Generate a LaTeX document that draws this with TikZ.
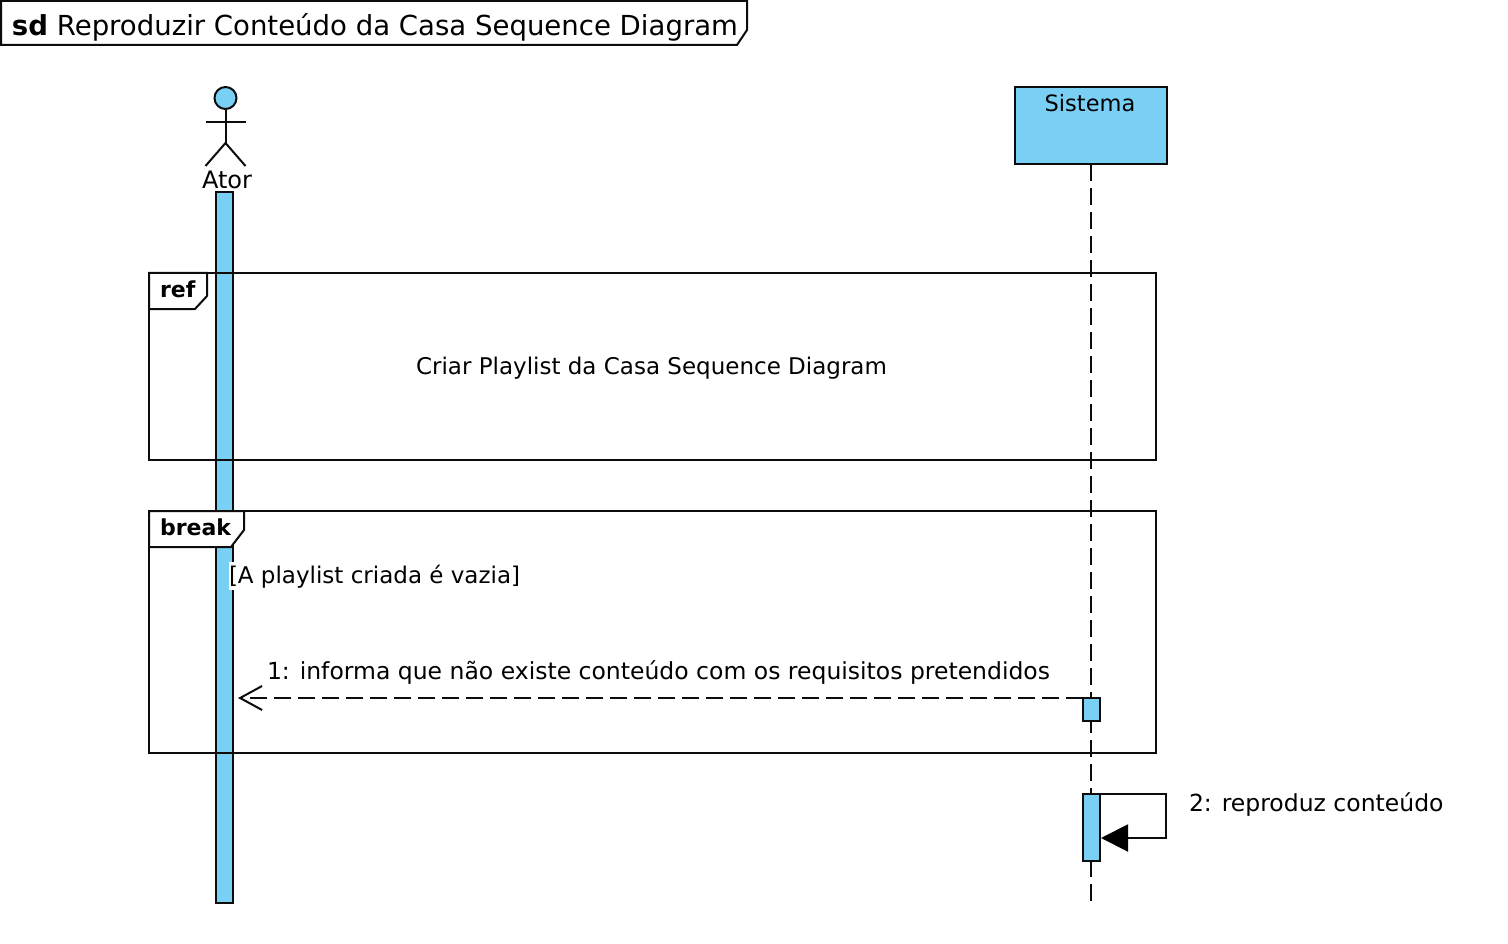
\documentclass[tikz,border=0pt]{standalone}
\usepackage{fontspec}
\setmainfont{DejaVu Sans}
\usetikzlibrary{arrows.meta}
\definecolor{fillblue}{HTML}{7ACFF5}
\definecolor{ink}{HTML}{0C0C0C}
\tikzset{
  lbl/.style={inner sep=0pt,outer sep=0pt,text=black,font=\fontsize{23.5}{28}\selectfont},
  lblw/.style={lbl,anchor=base west},
  lblc/.style={lbl,anchor=base},
  ln/.style={draw=ink,line width=2pt},
  bluebox/.style={ln,fill=fillblue,inner sep=0pt,outer sep=0pt,anchor=north west},
  framebox/.style={ln,inner sep=0pt,outer sep=0pt,anchor=north west},
  tab/.style={ln,fill=white,line join=miter},
  dashline/.style={ln,dash pattern=on 17pt off 7pt}
}
\begin{document}
\begin{tikzpicture}[x=1pt,y=-1pt]
\useasboundingbox (0,0) rectangle (1508,944);
% title
\draw[tab] (1,1) -- (747,1) -- (747,30) -- (737,45) -- (1,45) -- cycle;
\node[lblw,font=\fontsize{27.55}{32}\selectfont] (title) at (12,35.5) {\textbf{sd} Reproduzir Conteúdo da Casa Sequence Diagram};
% actor
\node[draw=ink,line width=2pt,fill=fillblue,circle,minimum size=22pt,inner sep=0pt,outer sep=0pt] (head) at (225.5,98) {};
\coordinate (hip) at (225.5,143);
\coordinate (armL) at (205.5,122);
\coordinate (armR) at (245.5,122);
\coordinate (footL) at (205.5,166);
\coordinate (footR) at (245.5,166);
\draw[ln] (head.south) -- (hip);
\draw[ln] (armL) -- (armR);
\draw[ln] (footL) -- (hip) -- (footR);
\node[lblc,font=\fontsize{24}{28}\selectfont] (ator) at (227,188.5) {Ator};
% Sistema
\node[bluebox,minimum width=152pt,minimum height=77pt] (sistema) at (1015,87) {};
\node[lblc,font=\fontsize{22.5}{28}\selectfont] (sistemaT) at (1090,112) {Sistema};
\coordinate (lifeEnd) at (1090.5,906);
\draw[dashline] (sistema.south -| lifeEnd) -- (lifeEnd);
% actor activation
\node[bluebox,minimum width=17pt,minimum height=711pt] (actA) at (216,192) {};
% ref
\node[framebox,minimum width=1007pt,minimum height=187pt] (refF) at (149,273) {};
\draw[tab] (refF.north west) -- (207,273) -- (207,296) -- (195,309) -- (149,309) -- cycle;
\node[lblw,font=\fontsize{22}{28}\selectfont] (refT) at (160,298) {\textbf{ref}};
\node[lblc,font=\fontsize{23}{28}\selectfont] (refL) at (651.5,374.5) {Criar Playlist da Casa Sequence Diagram};
% break
\node[framebox,minimum width=1007pt,minimum height=242pt] (brkF) at (149,511) {};
\draw[tab] (brkF.north west) -- (244,511) -- (244,530) -- (231,547) -- (149,547) -- cycle;
\node[lblw,font=\fontsize{22}{28}\selectfont] (brkT) at (160,535.5) {\textbf{break}};
\node[lblw,font=\fontsize{23}{28}\selectfont,fill=white,text depth=6pt,text height=22pt] (guard) at (229,583.5) {[A playlist criada é vazia]};
% messages
\node[bluebox,minimum width=17pt,minimum height=23pt] (actS1) at (1083,698) {};
\coordinate (tip1) at (238,698);
\draw[dashline,-{Straight Barb[length=22pt,width=24pt,line width=2pt]}] (actS1.north west) -- (tip1);
\node[lblw] (m1) at (267,679.5) {1: informa que não existe conteúdo com os requisitos pretendidos};
\node[bluebox,minimum width=17pt,minimum height=67pt] (actS2) at (1083,794) {};
\coordinate (c1) at (1166,794);
\coordinate (c2) at (1166,838);
\coordinate (tip2) at (1101,838);
\draw[ln,-{Triangle[length=27pt,width=27pt,fill=black,color=black]},line join=miter] (actS2.north east) -- (c1) -- (c2) -- (tip2);
\node[lblw] (m2) at (1189,811.5) {2: reproduz conteúdo};
\end{tikzpicture}
\end{document}
